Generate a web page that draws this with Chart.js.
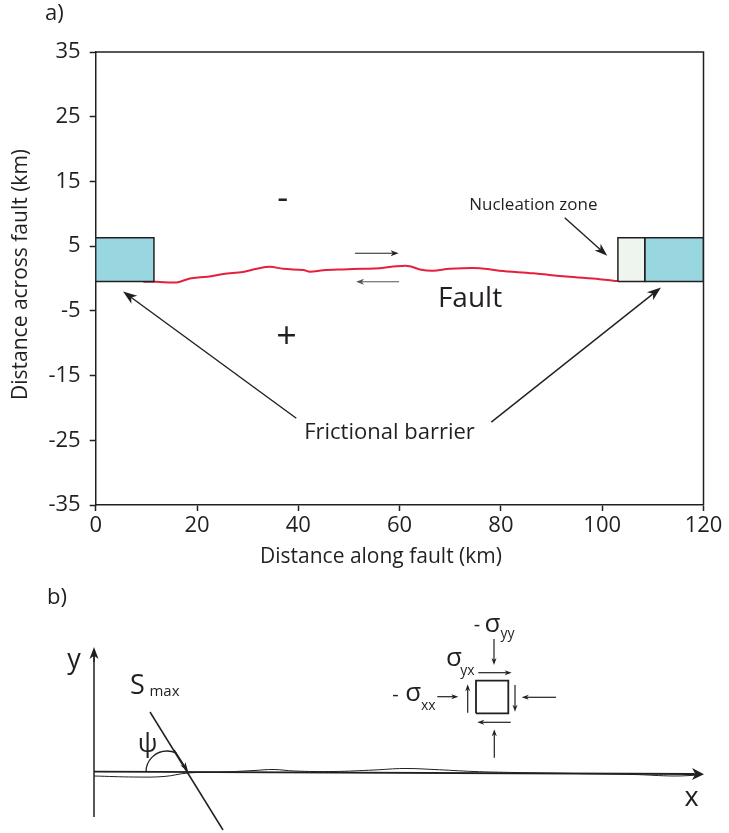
<!DOCTYPE html>
<html>
<head>
<meta charset="utf-8">
<script src="https://cdn.jsdelivr.net/npm/chart.js@4/dist/chart.umd.min.js"></script>
<style>
  html, body { margin: 0; padding: 0; background: #fff; }
  #wrap { position: relative; width: 729px; height: 833px; overflow: hidden; }
  #ca { position: absolute; left: 0; top: 0; }
  #cb { position: absolute; left: 0; top: 570px; }
</style>
</head>
<body>
<div id="wrap">
  <canvas id="ca" width="729" height="570"></canvas>
  <canvas id="cb" width="729" height="263"></canvas>
</div>
<script>
const FONT = "'Open Sans', 'DejaVu Sans', sans-serif";
const INK = '#231f20';

// ---- Panel a: fault model (km) ----
const xTickValues = [0, 20, 40, 60, 80, 100, 120];
const yTickValues = [-35, -25, -15, -5, 5, 15, 25, 35];

// fault trace
const faultX = [9.4, 12, 16, 18.6, 20.6, 22.5, 25.2, 29.1, 31.8, 34.4, 37, 41, 42.3, 44.9, 48.8, 52.8, 56.1, 59.4, 60.7, 62, 64, 66.6, 69.9, 75.8, 79.7, 86.3, 92.9, 99.5, 103.1];
const faultY = [-0.5, -0.5, -0.6, 0, 0.2, 0.3, 0.7, 1.0, 1.5, 1.8, 1.5, 1.3, 1.05, 1.27, 1.4, 1.5, 1.6, 1.9, 1.95, 1.9, 1.4, 1.2, 1.5, 1.6, 1.2, 0.8, 0.3, -0.1, -0.4];

// frictional barriers and nucleation patch (x extent, y extent)
const leftBarrierX = [0, 11.5];
const nucleationX = [103.1, 108.4];
const rightBarrierX = [108.4, 120];
const patchY = [-0.45, 6.3];

function rectPath(xs, ys) {
  return [
    { x: xs[0], y: ys[0] }, { x: xs[1], y: ys[0] }, { x: xs[1], y: ys[1] },
    { x: xs[0], y: ys[1] }, { x: xs[0], y: ys[0] }
  ];
}

function arrow(ctx, x1, y1, x2, y2, len, wid, color, lw) {
  const a = Math.atan2(y2 - y1, x2 - x1);
  const c = Math.cos(a), s = Math.sin(a);
  ctx.strokeStyle = color; ctx.fillStyle = color; ctx.lineWidth = lw;
  ctx.beginPath();
  ctx.moveTo(x1, y1);
  ctx.lineTo(x2 - c * len * 0.7, y2 - s * len * 0.7);
  ctx.stroke();
  ctx.beginPath();
  ctx.moveTo(x2, y2);
  ctx.lineTo(x2 - c * len - s * wid / 2, y2 - s * len + c * wid / 2);
  ctx.lineTo(x2 - c * len * 0.72, y2 - s * len * 0.72);
  ctx.lineTo(x2 - c * len + s * wid / 2, y2 - s * len - c * wid / 2);
  ctx.closePath();
  ctx.fill();
}

function text(ctx, str, x, y, size, align, baseline, color) {
  ctx.font = size + 'px ' + FONT;
  ctx.fillStyle = color || INK;
  ctx.textAlign = align || 'center';
  ctx.textBaseline = baseline || 'middle';
  ctx.fillText(str, x, y);
}

// labels and arrows drawn over the fault model
const overlayA = {
  id: 'overlayA',
  afterDraw(chart) {
    const { ctx, chartArea: a } = chart;
    const X = v => chart.scales.x.getPixelForValue(v);
    const Y = v => chart.scales.y.getPixelForValue(v);
    ctx.save();
    // closing frame (top and right)
    ctx.strokeStyle = INK; ctx.lineWidth = 1.5;
    ctx.beginPath();
    ctx.moveTo(a.left, a.top); ctx.lineTo(a.right, a.top); ctx.lineTo(a.right, a.bottom);
    ctx.stroke();

    // axis titles
    text(ctx, 'a)', 45, 14, 22, 'left');
    text(ctx, 'Distance along fault (km)', 260, 563, 21, 'left', 'alphabetic');
    ctx.save();
    ctx.translate(21, 400);
    ctx.rotate(-Math.PI / 2);
    text(ctx, 'Distance across fault (km)', 0, 0, 21, 'left', 'middle');
    ctx.restore();

    // polarity signs
    text(ctx, '-', X(36.9), Y(12.2), 34);
    text(ctx, '+', X(37.7), Y(-9.2), 36);

    // slip sense arrows
    arrow(ctx, X(51.2), Y(3.9), X(59.8), Y(3.9), 8, 6, INK, 1.1);
    arrow(ctx, X(59.9), Y(-0.5), X(51.4), Y(-0.5), 8, 6, '#555', 1.1);

    text(ctx, 'Fault', X(73.9), Y(-3.2), 28);
    text(ctx, 'Nucleation zone', X(86.4), Y(11.4), 17);
    arrow(ctx, X(92.6), Y(9.4), X(101.0), Y(3.5), 13, 9, INK, 1.4);

    text(ctx, 'Frictional barrier', X(58.0), Y(-23.8), 22);
    arrow(ctx, X(39.6), Y(-21.6), X(5.4), Y(-2.0), 14, 10, INK, 1.4);
    arrow(ctx, X(78.1), Y(-22.2), X(111.6), Y(-1.4), 14, 10, INK, 1.4);
    ctx.restore();
  }
};

new Chart(document.getElementById('ca'), {
  type: 'scatter',
  data: {
    datasets: [
      {
        label: 'Left barrier', data: rectPath(leftBarrierX, patchY), showLine: true, fill: 'shape',
        backgroundColor: '#98d7e0', borderColor: INK, borderWidth: 1.5, pointRadius: 0, tension: 0, order: 0
      },
      {
        label: 'Nucleation zone', data: rectPath(nucleationX, patchY), showLine: true, fill: 'shape',
        backgroundColor: '#eef4ee', borderColor: INK, borderWidth: 1.5, pointRadius: 0, tension: 0, order: 0
      },
      {
        label: 'Right barrier', data: rectPath(rightBarrierX, patchY), showLine: true, fill: 'shape',
        backgroundColor: '#98d7e0', borderColor: INK, borderWidth: 1.5, pointRadius: 0, tension: 0, order: 0
      },
      {
        label: 'Fault', data: faultX.map((x, i) => ({ x, y: faultY[i] })), showLine: true, fill: false,
        borderColor: '#e5203c', borderWidth: 2, pointRadius: 0, tension: 0.35, order: 1
      }
    ]
  },
  options: {
    responsive: false, animation: false, devicePixelRatio: 1,
    layout: { padding: { top: 52, right: 25.5, left: 0, bottom: 0 } },
    plugins: { legend: { display: false }, tooltip: { enabled: false } },
    scales: {
      x: {
        type: 'linear', min: 0, max: 120,
        afterBuildTicks: s => { s.ticks = xTickValues.map(v => ({ value: v })); },
        afterFit: s => { s.height = 65; },
        ticks: { font: { family: FONT, size: 22 }, color: INK, padding: 2, maxRotation: 0, autoSkip: false },
        grid: { drawOnChartArea: false, drawTicks: true, tickLength: 6, tickColor: INK, tickWidth: 1.5 },
        border: { display: true, color: INK, width: 1.5 }
      },
      y: {
        type: 'linear', min: -35, max: 35,
        afterBuildTicks: s => { s.ticks = yTickValues.map(v => ({ value: v })); },
        afterFit: s => { s.width = 95.7; },
        ticks: { font: { family: FONT, size: 22 }, color: INK, padding: 9, autoSkip: false },
        grid: { drawOnChartArea: false, drawTicks: true, tickLength: 6, tickColor: INK, tickWidth: 1.5 },
        border: { display: true, color: INK, width: 1.5 }
      }
    }
  },
  plugins: [overlayA]
});

// ---- Panel b: stress sketch, coordinates relative to the axes origin (y up) ----
const traceX = [0, 40, 70, 94, 130, 160, 180, 200, 240, 280, 310, 340, 380, 420, 480, 540, 580, 606];
const traceY = [-4, -5, -4.5, -1, 0, 1.5, 2.5, 1, 0.5, 2, 3.5, 2.5, 0.5, -0.5, -1.5, -2.5, -4, -3];
const xAxisLine = [{ x: 0, y: 0.3 }, { x: 600, y: -2 }];
const yAxisLine = [{ x: 0, y: -45 }, { x: 0, y: 118 }];
const sMaxLine = [{ x: 56, y: 60 }, { x: 129, y: -58 }];
const elementX = [382, 414.3];
const elementY = [58.7, 91.3];

const overlayB = {
  id: 'overlayB',
  afterDraw(chart) {
    const { ctx } = chart;
    const X = v => chart.scales.x.getPixelForValue(v);
    const Y = v => chart.scales.y.getPixelForValue(v);
    ctx.save();
    text(ctx, 'b)', 47, 28, 22, 'left');

    // axes arrowheads
    arrow(ctx, X(0), Y(110), X(0), Y(125), 12, 9, INK, 1.5);
    arrow(ctx, X(590), Y(-1.9), X(610), Y(-2.3), 12, 12, INK, 1.8);
    text(ctx, 'y', X(-20), Y(112), 27);
    text(ctx, 'x', X(597.5), Y(-26), 27);

    // S_max direction and its head at the fault
    arrow(ctx, X(80), Y(22), X(94.3), Y(0), 10, 6, INK, 1.5);
    text(ctx, 'S', X(43.5), Y(86), 27);
    text(ctx, 'max', X(70.5), Y(80), 15);

    // angle psi
    const cx = X(73), cy = Y(0), r = X(94) - X(73);
    const endA = Math.atan2(Y(18.8) - cy, X(82.3) - cx);
    ctx.strokeStyle = INK; ctx.lineWidth = 1.3;
    ctx.beginPath(); ctx.arc(cx, cy, r, Math.PI, endA + 2 * Math.PI); ctx.stroke();
    text(ctx, 'ψ', X(53.5), Y(27), 26);

    // stress components around the element
    arrow(ctx, X(400), Y(133), X(400), Y(107), 7, 5, INK, 1.2);
    arrow(ctx, X(384.3), Y(99.3), X(417.7), Y(99.3), 7, 5, INK, 1.2);
    arrow(ctx, X(343.3), Y(75.3), X(364.3), Y(75.3), 7, 5, INK, 1.2);
    arrow(ctx, X(373.7), Y(59.3), X(373.7), Y(87.7), 7, 5, INK, 1.2);
    arrow(ctx, X(421), Y(87), X(421), Y(60.3), 7, 5, INK, 1.2);
    arrow(ctx, X(462), Y(74.7), X(427.7), Y(74.7), 7, 5, INK, 1.2);
    arrow(ctx, X(416.7), Y(49.7), X(383.3), Y(49.7), 7, 5, INK, 1.2);
    arrow(ctx, X(400.3), Y(14.3), X(400.3), Y(42.7), 7, 5, INK, 1.2);

    text(ctx, '-', X(383), Y(147), 20);
    text(ctx, 'σ', X(398.5), Y(147), 26);
    text(ctx, 'yy', X(413.5), Y(138), 14);
    text(ctx, 'σ', X(360), Y(113.5), 26);
    text(ctx, 'yx', X(373.5), Y(101), 14);
    text(ctx, '-', X(301.5), Y(77), 20);
    text(ctx, 'σ', X(319.3), Y(78), 26);
    text(ctx, 'xx', X(334.3), Y(65.5), 14);
    ctx.restore();
  }
};

new Chart(document.getElementById('cb'), {
  type: 'scatter',
  data: {
    datasets: [
      { label: 'trace', data: traceX.map((x, i) => ({ x, y: traceY[i] })), showLine: true, borderColor: INK, borderWidth: 1, pointRadius: 0, tension: 0.4 },
      { label: 'x axis', data: xAxisLine, showLine: true, borderColor: INK, borderWidth: 1.8, pointRadius: 0 },
      { label: 'y axis', data: yAxisLine, showLine: true, borderColor: INK, borderWidth: 1.5, pointRadius: 0 },
      { label: 'Smax', data: sMaxLine, showLine: true, borderColor: INK, borderWidth: 1.5, pointRadius: 0 },
      { label: 'element', data: rectPath(elementX, elementY), showLine: true, borderColor: INK, borderWidth: 1.8, pointRadius: 0, tension: 0 }
    ]
  },
  options: {
    responsive: false, animation: false, devicePixelRatio: 1,
    layout: { padding: 0 },
    plugins: { legend: { display: false }, tooltip: { enabled: false } },
    scales: {
      x: { type: 'linear', display: false, min: -94, max: 635 },
      y: { type: 'linear', display: false, min: -61, max: 202 }
    }
  },
  plugins: [overlayB]
});
</script>
</body>
</html>
